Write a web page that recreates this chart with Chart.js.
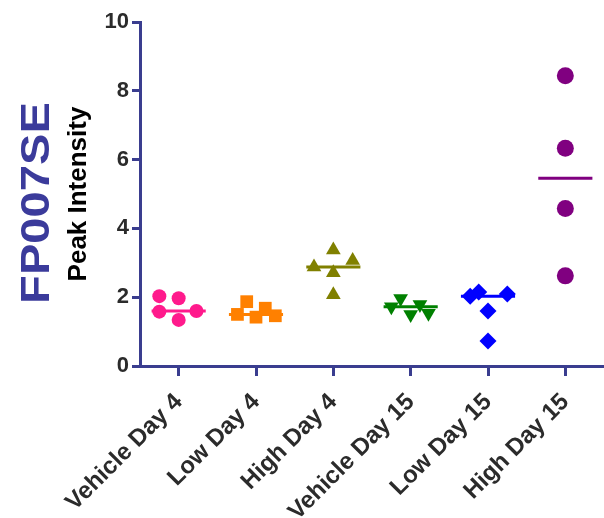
<!DOCTYPE html>
<html>
<head>
<meta charset="utf-8">
<script src="https://cdn.jsdelivr.net/npm/chart.js@4.4.1/dist/chart.umd.min.js"></script>
<style>
  html, body { margin: 0; padding: 0; background: #fff; }
  canvas { display: block; }
</style>
</head>
<body>
<canvas id="chart" width="604" height="518"></canvas>
<script>
const categories = ['Vehicle Day 4', 'Low Day 4', 'High Day 4', 'Vehicle Day 15', 'Low Day 15', 'High Day 15'];

const vehicleDay4 = [2.03, 1.97, 1.58, 1.60, 1.34];
const lowDay4 = [1.87, 1.68, 1.50, 1.42, 1.46];
const highDay4 = [3.37, 3.07, 2.88, 2.71, 2.07];
const vehicleDay15 = [1.96, 1.72, 1.79, 1.50, 1.53];
const lowDay15 = [2.03, 2.15, 2.09, 1.60, 0.73];
const highDay15 = [8.44, 6.33, 4.58, 2.62];

// sideways scatter of each point, in category widths
const vehicleDay4Jitter = [-0.25, 0, -0.25, 0.23, 0];
const lowDay4Jitter = [-0.12, 0.12, -0.24, 0, 0.25];
const highDay4Jitter = [0, 0.25, -0.25, 0, 0];
const vehicleDay15Jitter = [-0.13, -0.25, 0.12, 0, 0.23];
const lowDay15Jitter = [-0.23, -0.12, 0.25, 0, 0];
const highDay15Jitter = [0, 0, 0, 0];

const yTicks = [0, 2, 4, 6, 8, 10];

const AXIS = '#3a3d8f';
const FONT = "'Liberation Sans', Arial, sans-serif";

const groups = [
  { values: vehicleDay4, jitter: vehicleDay4Jitter, color: '#ff1a8c', style: 'circle', radius: 7, rotation: 0 },
  { values: lowDay4, jitter: lowDay4Jitter, color: '#ff8000', style: 'rect', radius: 9, rotation: 0 },
  { values: highDay4, jitter: highDay4Jitter, color: '#808000', style: 'triangle', radius: 8.5, rotation: 0 },
  { values: vehicleDay15, jitter: vehicleDay15Jitter, color: '#008000', style: 'triangle', radius: 8.5, rotation: 180 },
  { values: lowDay15, jitter: lowDay15Jitter, color: '#0000ff', style: 'rectRot', radius: 8.5, rotation: 0 },
  { values: highDay15, jitter: highDay15Jitter, color: '#800080', style: 'circle', radius: 8.5, rotation: 0 }
];

function median(arr) {
  const s = [...arr].sort((a, b) => a - b);
  const m = Math.floor(s.length / 2);
  return s.length % 2 ? s[m] : (s[m - 1] + s[m]) / 2;
}

const datasets = [];
groups.forEach((g, i) => {
  datasets.push({
    data: g.values.map((v, k) => ({ x: i + g.jitter[k], y: v })),
    pointStyle: g.style,
    pointRadius: g.radius,
    pointRotation: g.rotation,
    pointBackgroundColor: g.color,
    pointBorderWidth: 0,
    showLine: false
  });
  const m = median(g.values);
  datasets.push({
    data: [{ x: i - 0.35, y: m }, { x: i + 0.35, y: m }],
    borderColor: g.color,
    borderWidth: 3,
    borderCapStyle: 'butt',
    pointRadius: 0,
    showLine: true
  });
});

// big compound name beside the axis title
const sideTitle = {
  id: 'sideTitle',
  afterDraw(chart) {
    const ctx = chart.ctx;
    ctx.save();
    ctx.translate(38, 203);
    ctx.rotate(-Math.PI / 2);
    ctx.scale(1.15, 1);
    ctx.font = 'bold 41px ' + FONT;
    ctx.fillStyle = '#3b3b9b';
    ctx.textAlign = 'center';
    ctx.textBaseline = 'middle';
    ctx.fillText('FP007SE', 0, 0);
    ctx.restore();
  }
};

new Chart(document.getElementById('chart'), {
  type: 'scatter',
  data: { datasets },
  options: {
    responsive: false,
    animation: false,
    layout: { autoPadding: false, padding: { top: 22, right: 0, left: 0, bottom: 0 } },
    plugins: { legend: { display: false }, tooltip: { enabled: false } },
    scales: {
      x: {
        type: 'linear',
        min: -0.5,
        max: 5.5,
        afterBuildTicks: scale => { scale.ticks = categories.map((c, i) => ({ value: i })); },
        afterFit: scale => {
          scale.height = 152;
          scale.paddingLeft = 0;
          scale.paddingRight = 0;
        },
        grid: { drawOnChartArea: false, drawTicks: true, tickLength: 10, color: AXIS, lineWidth: 3 },
        border: { color: AXIS, width: 3 },
        ticks: {
          autoSkip: false,
          minRotation: 45,
          maxRotation: 45,
          padding: 12,
          color: '#2b2b2b',
          font: { family: FONT, size: 24, weight: 'bold' },
          callback: v => categories[v]
        }
      },
      y: {
        min: 0,
        max: 10,
        afterBuildTicks: scale => { scale.ticks = yTicks.map(v => ({ value: v })); },
        afterFit: scale => { scale.width = 140; },
        grid: { drawOnChartArea: false, drawTicks: true, tickLength: 8, color: AXIS, lineWidth: 3 },
        border: { color: AXIS, width: 3 },
        ticks: {
          padding: 3,
          color: '#2b2b2b',
          font: { family: FONT, size: 22, weight: 'bold' }
        },
        title: {
          display: true,
          text: 'Peak Intensity',
          color: '#000',
          font: { family: FONT, size: 26, weight: 'bold' },
          padding: { top: 63, bottom: 0 }
        }
      }
    }
  },
  plugins: [sideTitle]
});
</script>
</body>
</html>
